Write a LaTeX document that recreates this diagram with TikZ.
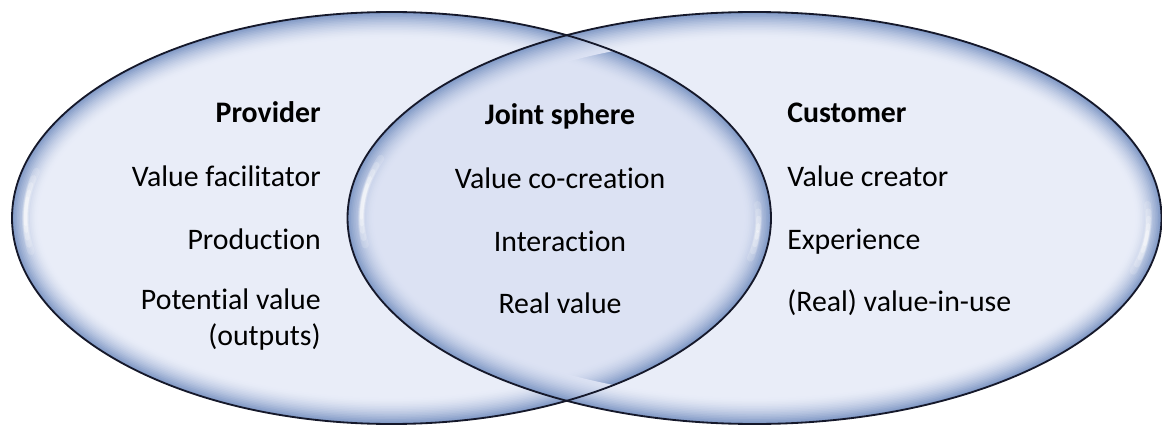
\documentclass[tikz,border=0pt]{standalone}
\usepackage{fontspec}
\setmainfont{Carlito}[Ligatures=NoCommon]
\definecolor{vfill}{HTML}{E9EDF8}
\definecolor{vlens}{HTML}{DCE2F3}
\definecolor{vedge}{HTML}{8199C6}
\definecolor{vline}{HTML}{15182A}
% the two spheres, in pixel-like units
\newcommand{\provshape}{(391.5,218) ellipse [x radius=379.5, y radius=206]}
\newcommand{\custshape}{(754.5,218) ellipse [x radius=407, y radius=206]}
% soft inner rim: stacked strokes, clipped to the shape, darkest at the edge
\newcommand{\rimband}[2]{%
  \foreach \i in {16,15,...,1} {
    \pgfmathsetmacro{\bw}{2*1.15*\i}
    \pgfmathsetmacro{\bp}{100*(1-(\i-1)/16)^1.7}
    \draw[line width=\bw pt, draw=vedge!\bp!#2] #1;
  }}
% white glint along an inner arc of an ellipse, tapering at both ends
\newcommand{\glint}[6]{%
  \foreach \k/\op/\lw in {0/0.15/5, 2/0.2/4, 4/0.25/3.2, 6/0.3/2.6, 8/0.35/2.2} {
    \draw[white, opacity=\op, line width=\lw pt, line cap=round]
      plot[domain={#5+\k}:{#6-\k}, samples=30, smooth]
      ({#1+#3*cos(\x)}, {#2+#4*sin(\x)});
  }}
\begin{document}
\begin{tikzpicture}[x=0.025cm, y=-0.025cm,
  label/.style={font=\fontsize{21.2}{25}\selectfont, inner sep=0pt},
  head/.style={label, font=\fontsize{21.2}{25}\selectfont\bfseries}]
\useasboundingbox (0,0) rectangle (1162,426);

% provider sphere
\begin{scope}
  \clip \provshape;
  \fill[vfill] \provshape;
  \rimband{\provshape}{vfill}
\end{scope}
% customer sphere
\begin{scope}
  \clip \custshape;
  \fill[vfill] \custshape;
  \rimband{\custshape}{vfill}
\end{scope}
% joint sphere (overlap)
\begin{scope}
  \clip \provshape;
  \clip \custshape;
  \fill[vlens] \provshape;
  \rimband{\provshape}{vlens}
  \rimband{\custshape}{vlens}
\end{scope}

% glints
\glint{391.5}{218}{366}{193}{170}{194}
\glint{754.5}{218}{394}{193}{-4}{16}
\glint{754.5}{218}{393}{193}{172}{198}
\glint{391.5}{218}{367}{193}{-4}{12}

% outlines
\draw[vline, line width=1.3pt] \provshape;
\draw[vline, line width=1.3pt] \custshape;

% provider texts
\node[head, anchor=base east] (ph) at (321,123) {Provider};
\node[label, anchor=base east] (p1) at (321,186) {Value facilitator};
\node[label, anchor=base east] (p2) at (321,249) {Production};
\node[label, anchor=base east, align=right] (p3) at (321,345) {Potential value\\(outputs)};

% joint texts
\node[head, anchor=base] (jh) at (560,125) {Joint sphere};
\node[label, anchor=base] (j1) at (560,188) {Value co-creation};
\node[label, anchor=base] (j2) at (560,251) {Interaction};
\node[label, anchor=base] (j3) at (560,313) {Real value};

% customer texts
\node[head, anchor=base west] (ch) at (787,123) {Customer};
\node[label, anchor=base west] (c1) at (787,186) {Value creator};
\node[label, anchor=base west] (c2) at (787,249) {Experience};
\node[label, anchor=base west] (c3) at (787,311) {(Real) value-in-use};
\end{tikzpicture}
\end{document}
